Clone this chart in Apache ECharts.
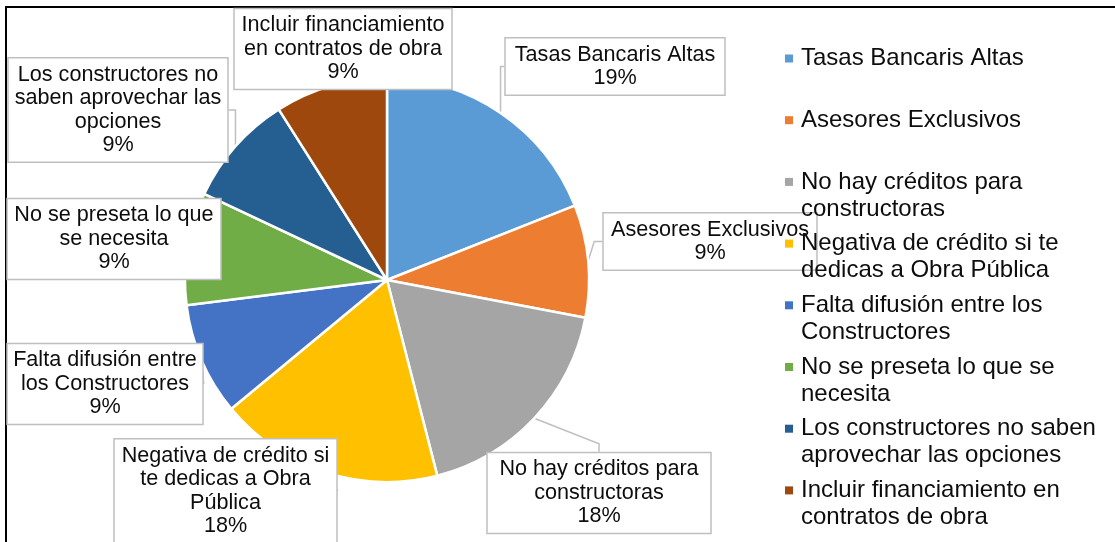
<!DOCTYPE html>
<html lang="es">
<head>
  <meta charset="UTF-8">
  <title>Pie</title>
  <script src="https://cdn.jsdelivr.net/npm/echarts@6/dist/echarts.min.js"></script>
</head>
<style>
  html, body { margin: 0; padding: 0; background: #fff; overflow: hidden; }
  #frame {
    position: absolute; left: 5px; top: 6px;
    width: 1108px; height: 536px;
    border-left: 2px solid #000; border-top: 2px solid #000;
  }
  #main {
    position: absolute; left: 0; top: 0;
    width: 1115px; height: 542px;
  }
</style>
<body>
<div id="frame"></div>
<div id="main"></div>
<script>
  const categories = [
    'Tasas Bancaris Altas',
    'Asesores Exclusivos',
    'No hay créditos para constructoras',
    'Negativa de crédito si te dedicas a Obra Pública',
    'Falta difusión entre los Constructores',
    'No se preseta lo que se necesita',
    'Los constructores no saben aprovechar las opciones',
    'Incluir financiamiento en contratos de obra'
  ]
  const values = [19, 9, 18, 18, 9, 9, 9, 9]
  const colors = ['#5B9BD5', '#ED7D31', '#A5A5A5', '#FFC000', '#4472C4', '#70AD47', '#255E91', '#9E480E']

  // texto de las etiquetas (cortado como en el original)
  const labelText = [
    'Tasas Bancaris Altas',
    'Asesores Exclusivos',
    'No hay créditos para\nconstructoras',
    'Negativa de crédito si\nte dedicas a Obra\nPública',
    'Falta difusión entre\nlos Constructores',
    'No se preseta lo que\nse necesita',
    'Los constructores no\nsaben aprovechar las\nopciones',
    'Incluir financiamiento\nen contratos de obra'
  ]
  // texto de la leyenda, por líneas
  const legendText = [
    ['Tasas Bancaris Altas'],
    ['Asesores Exclusivos'],
    ['No hay créditos para', 'constructoras'],
    ['Negativa de crédito si te', 'dedicas a Obra Pública'],
    ['Falta difusión entre los', 'Constructores'],
    ['No se preseta lo que se', 'necesita'],
    ['Los constructores no saben', 'aprovechar las opciones'],
    ['Incluir financiamiento en', 'contratos de obra']
  ]

  // cajas de las etiquetas: centro x, centro y, ancho exterior
  const labelBoxes = [
    [615, 66.5, 220],
    [710, 241.5, 214],
    [599, 493, 224],
    [225.5, 491, 223],
    [105, 384, 196],
    [114, 239, 214],
    [118, 110, 220],
    [343, 49, 218]
  ]

  const legendRich = {
    t: { fontSize: 24, lineHeight: 27, color: '#0d0d0d', fontFamily: 'Liberation Sans, Arial' },
    g: { width: 8, height: 8 },
    p: { width: 16, height: 8 }
  }
  colors.forEach((c, i) => {
    legendRich['m' + i] = { width: 8, height: 8, backgroundColor: c }
  })

  const chart = echarts.init(document.getElementById('main'))
  chart.setOption({
    animation: false,
    color: colors,
    legend: {
      orient: 'vertical',
      left: 779,
      top: 45,
      padding: 0,
      itemGap: 7.7,
      itemWidth: 0,
      itemHeight: 0,
      selectedMode: false,
      data: categories,
      formatter: name => {
        const i = categories.indexOf(name)
        const lines = legendText[i]
        const second = lines[1] ? '{t|' + lines[1] + '}' : '{t| }'
        return '{m' + i + '|}{g|}{t|' + lines[0] + '}\n{p|}' + second
      },
      textStyle: {
        fontSize: 24,
        lineHeight: 27,
        fontFamily: 'Liberation Sans, Arial',
        rich: legendRich
      }
    },
    series: [
      {
        type: 'pie',
        center: [387, 280],
        radius: 202,
        startAngle: 90,
        clockwise: true,
        percentPrecision: 0,
        avoidLabelOverlap: false,
        itemStyle: {
          borderColor: '#fff',
          borderWidth: 2.5
        },
        label: {
          show: true,
          position: 'outside',
          formatter: p => labelText[p.dataIndex] + '\n' + p.percent + '%',
          fontFamily: 'Liberation Sans, Arial',
          fontSize: 21.6,
          lineHeight: 23.5,
          color: '#0d0d0d',
          align: 'center',
          backgroundColor: '#fff',
          borderColor: '#BFBFBF',
          borderWidth: 1.5,
          padding: [6, 4, 3, 4]
        },
        labelLine: {
          show: true,
          length: 8,
          length2: 8,
          smooth: false,
          lineStyle: { color: '#BFBFBF', width: 1.5 }
        },
        labelLayout: params => {
          const b = labelBoxes[params.dataIndex]
          return { x: b[0], y: b[1], align: 'center', verticalAlign: 'middle' }
        },
        emphasis: { disabled: true },
        data: categories.map((name, i) => ({
          name: name,
          value: values[i],
          label: { width: labelBoxes[i][2] - 9.5 }
        }))
      }
    ]
  })
</script>
</body>
</html>
